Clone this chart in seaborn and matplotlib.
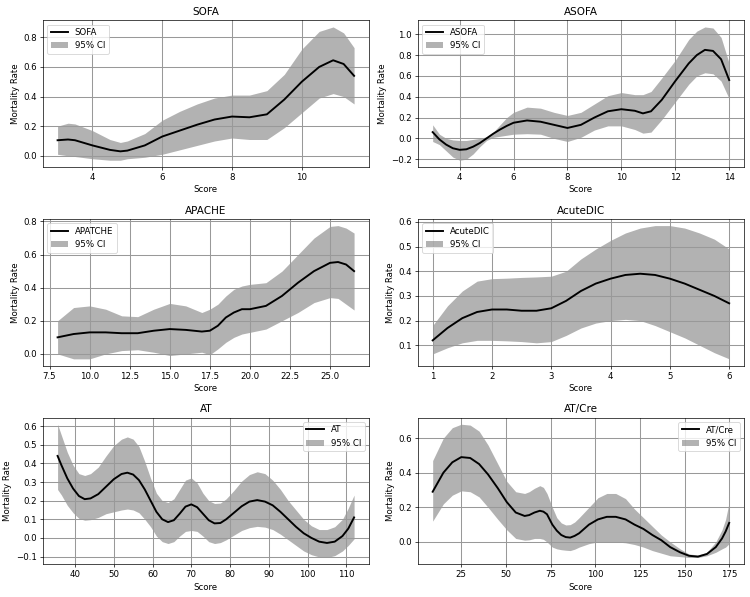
import matplotlib
matplotlib.use("Agg")
from matplotlib import pyplot as plt
import seaborn as sns

# SOFA
sofa_x = [3, 3.3, 3.5, 4, 4.5, 4.8, 5, 5.5, 6, 6.5, 7, 7.5, 8, 8.5, 9, 9.5, 10, 10.5, 10.9, 11.2, 11.5]
sofa_mean = [0.105, 0.11, 0.105, 0.07, 0.04, 0.03, 0.035, 0.07, 0.13, 0.17, 0.21, 0.245, 0.265, 0.26, 0.28,
             0.38, 0.5, 0.6, 0.645, 0.62, 0.54]
sofa_upper = [0.2, 0.22, 0.215, 0.17, 0.11, 0.09, 0.1, 0.15, 0.24, 0.3, 0.35, 0.39, 0.41, 0.41, 0.44,
              0.55, 0.72, 0.84, 0.87, 0.83, 0.73]
sofa_lower = [0.01, 0.0, -0.005, -0.02, -0.03, -0.03, -0.02, -0.01, 0.01, 0.04, 0.07, 0.1, 0.12, 0.11, 0.11,
              0.19, 0.29, 0.39, 0.42, 0.4, 0.35]

# ASOFA
asofa_x = [3, 3.25, 3.5, 3.75, 4, 4.25, 4.5, 4.75, 5, 5.25, 5.5, 5.75, 6, 6.5, 7, 7.5, 8, 8.5, 9, 9.5, 10,
           10.5, 10.8, 11.1, 11.5, 12, 12.5, 12.8, 13.1, 13.4, 13.7, 14]
asofa_mean = [0.06, -0.01, -0.06, -0.095, -0.11, -0.105, -0.08, -0.045, 0.0, 0.045, 0.085, 0.12, 0.15, 0.172,
              0.16, 0.13, 0.1, 0.13, 0.2, 0.26, 0.28, 0.265, 0.24, 0.26, 0.37, 0.55, 0.72, 0.8, 0.85, 0.84,
              0.76, 0.56]
asofa_upper = [0.13, 0.04, 0.0, -0.015, -0.02, -0.02, -0.01, 0.0, 0.015, 0.06, 0.13, 0.2, 0.25, 0.3, 0.29,
               0.25, 0.22, 0.25, 0.33, 0.41, 0.44, 0.42, 0.42, 0.45, 0.58, 0.75, 0.95, 1.03, 1.07, 1.06,
               0.97, 0.72]
asofa_lower = [-0.03, -0.06, -0.12, -0.18, -0.21, -0.2, -0.15, -0.08, -0.02, 0.01, 0.02, 0.03, 0.04, 0.045,
               0.04, 0.0, -0.03, 0.01, 0.08, 0.12, 0.12, 0.085, 0.05, 0.06, 0.18, 0.35, 0.52, 0.6, 0.63, 0.62,
               0.55, 0.38]

# APACHE
apache_x = [8, 9, 10, 11, 12, 13, 14, 15, 16, 17, 17.5, 18, 18.5, 19, 19.5, 20, 21, 22, 23, 24, 25, 25.5, 26, 26.5]
apache_mean = [0.1, 0.12, 0.13, 0.13, 0.125, 0.125, 0.14, 0.15, 0.145, 0.135, 0.14, 0.17, 0.22, 0.25, 0.27,
               0.27, 0.29, 0.35, 0.43, 0.5, 0.55, 0.555, 0.54, 0.5]
apache_upper = [0.2, 0.28, 0.29, 0.27, 0.23, 0.225, 0.27, 0.305, 0.29, 0.25, 0.27, 0.3, 0.35, 0.39, 0.41,
                0.42, 0.43, 0.5, 0.6, 0.7, 0.77, 0.775, 0.76, 0.73]
apache_lower = [0.0, -0.03, -0.03, 0.0, 0.02, 0.025, 0.01, -0.01, 0.0, 0.01, -0.005, 0.03, 0.07, 0.1, 0.12,
                0.13, 0.15, 0.2, 0.25, 0.31, 0.34, 0.335, 0.3, 0.265]

# AcuteDIC
dic_x = [1, 1.25, 1.5, 1.75, 2, 2.25, 2.5, 2.75, 3, 3.25, 3.5, 3.75, 4, 4.25, 4.5, 4.75, 5, 5.25, 5.5, 5.75, 6]
dic_mean = [0.12, 0.17, 0.21, 0.235, 0.245, 0.245, 0.24, 0.24, 0.25, 0.28, 0.32, 0.35, 0.37, 0.385, 0.39,
            0.385, 0.37, 0.35, 0.325, 0.3, 0.27]
dic_upper = [0.18, 0.26, 0.32, 0.36, 0.37, 0.372, 0.375, 0.377, 0.38, 0.4, 0.45, 0.49, 0.525, 0.555, 0.575,
             0.585, 0.585, 0.575, 0.555, 0.53, 0.49]
dic_lower = [0.065, 0.09, 0.11, 0.12, 0.12, 0.118, 0.115, 0.11, 0.115, 0.14, 0.17, 0.19, 0.2, 0.205, 0.2,
             0.18, 0.155, 0.13, 0.1, 0.07, 0.045]

# AT
at_x = [35.5, 36.5, 38, 39.5, 41, 42.5, 44, 46, 48, 50, 52, 53.5, 55, 56.5, 58, 59.5, 61, 62.5, 64, 65.5, 67,
        68.5, 70, 71.5, 73, 74.5, 76, 77.5, 79, 81, 83, 85, 87, 89, 91, 93, 95, 97, 99, 101, 103, 105, 107,
        109, 110.5, 112]
at_mean = [0.44, 0.39, 0.32, 0.265, 0.225, 0.208, 0.212, 0.235, 0.275, 0.315, 0.343, 0.35, 0.34, 0.31, 0.26,
           0.2, 0.14, 0.1, 0.085, 0.095, 0.13, 0.168, 0.18, 0.165, 0.13, 0.095, 0.078, 0.08, 0.1, 0.135, 0.17,
           0.195, 0.203, 0.195, 0.175, 0.14, 0.1, 0.06, 0.025, 0.0, -0.02, -0.027, -0.02, 0.01, 0.05, 0.11]
at_upper = [0.61, 0.55, 0.46, 0.39, 0.345, 0.335, 0.345, 0.38, 0.44, 0.495, 0.53, 0.542, 0.53, 0.49, 0.41,
            0.32, 0.24, 0.2, 0.19, 0.21, 0.26, 0.31, 0.322, 0.295, 0.24, 0.2, 0.185, 0.187, 0.21, 0.255, 0.305,
            0.34, 0.355, 0.345, 0.31, 0.26, 0.2, 0.15, 0.1, 0.065, 0.045, 0.045, 0.06, 0.1, 0.16, 0.23]
at_lower = [0.26, 0.23, 0.175, 0.135, 0.105, 0.095, 0.098, 0.11, 0.13, 0.14, 0.15, 0.155, 0.15, 0.135, 0.1,
            0.06, 0.01, -0.02, -0.03, -0.02, 0.01, 0.035, 0.04, 0.035, 0.01, -0.02, -0.03, -0.025, -0.01,
            0.015, 0.04, 0.055, 0.062, 0.058, 0.045, 0.02, -0.01, -0.04, -0.07, -0.09, -0.102, -0.105, -0.095,
            -0.07, -0.04, -0.005]

# AT/Cre
atcre_x = [9, 15, 20, 25, 30, 35, 40, 45.5, 50.5, 55.5, 60.5, 63, 66, 69, 71, 73, 76, 78.5, 81, 83.5, 86,
           88.5, 91, 96.5, 101.5, 106.5, 111.5, 117, 122, 127, 132, 137, 142, 147.5, 152.5, 157.5, 162.5,
           167.5, 171, 173, 175]
atcre_mean = [0.29, 0.4, 0.46, 0.49, 0.485, 0.45, 0.39, 0.31, 0.23, 0.17, 0.15, 0.155, 0.17, 0.18, 0.175,
              0.16, 0.1, 0.065, 0.04, 0.028, 0.025, 0.035, 0.05, 0.1, 0.13, 0.145, 0.145, 0.13, 0.1, 0.075,
              0.04, 0.01, -0.03, -0.06, -0.08, -0.085, -0.07, -0.03, 0.02, 0.06, 0.11]
atcre_upper = [0.47, 0.6, 0.66, 0.68, 0.675, 0.64, 0.56, 0.45, 0.35, 0.29, 0.28, 0.29, 0.31, 0.325, 0.315,
               0.28, 0.2, 0.14, 0.11, 0.098, 0.1, 0.115, 0.14, 0.2, 0.255, 0.28, 0.28, 0.25, 0.19, 0.14, 0.09,
               0.04, 0.0, -0.04, -0.07, -0.075, -0.06, 0.0, 0.07, 0.13, 0.23]
atcre_lower = [0.12, 0.22, 0.27, 0.295, 0.29, 0.26, 0.2, 0.13, 0.07, 0.02, 0.01, 0.012, 0.02, 0.02, 0.015,
               0.0, -0.03, -0.04, -0.045, -0.048, -0.05, -0.042, -0.03, -0.01, 0.0, 0.0, 0.0, -0.005, -0.015,
               -0.03, -0.05, -0.065, -0.08, -0.085, -0.09, -0.09, -0.08, -0.06, -0.04, -0.03, -0.01]

panels = [
    ("SOFA", "SOFA", sofa_x, sofa_mean, sofa_lower, sofa_upper, "upper left"),
    ("ASOFA", "ASOFA", asofa_x, asofa_mean, asofa_lower, asofa_upper, "upper left"),
    ("APACHE", "APATCHE", apache_x, apache_mean, apache_lower, apache_upper, "upper left"),
    ("AcuteDIC", "AcuteDIC", dic_x, dic_mean, dic_lower, dic_upper, "upper left"),
    ("AT", "AT", at_x, at_mean, at_lower, at_upper, "upper right"),
    ("AT/Cre", "AT/Cre", atcre_x, atcre_mean, atcre_lower, atcre_upper, "upper right"),
]


def main():
    fig, axes = plt.subplots(3, 2, figsize=(12, 9.552), dpi=62.5)
    fig.subplots_adjust(left=0.057, right=0.992, top=0.966, bottom=0.055, wspace=0.15, hspace=0.355)

    for ax, (title, label, x, mean, lower, upper, loc) in zip(axes.flat, panels):
        sns.lineplot(x=x, y=mean, ax=ax, color="black", linewidth=2.2, label=label)
        ax.fill_between(x, lower, upper, color="gray", alpha=0.6, linewidth=0, label="95% CI")
        ax.set_title(title, fontsize=12)
        ax.set_xlabel("Score")
        ax.set_ylabel("Mortality Rate")
        ax.grid(True, color="#999999", linewidth=1.2)
        ax.legend(loc=loc)

    fig.savefig("out.png", dpi=62.5)


if __name__ == "__main__":
    main()
